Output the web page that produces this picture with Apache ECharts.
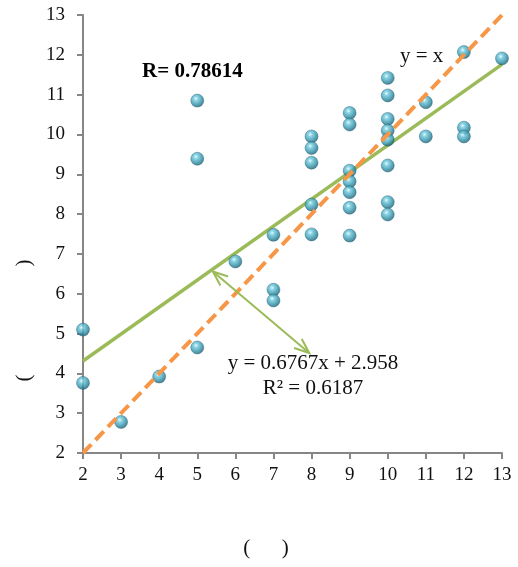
<!DOCTYPE html>
<html>
<head>
<meta charset="utf-8">
<script src="https://cdn.jsdelivr.net/npm/echarts@6/dist/echarts.min.js"></script>
<style>
html,body{margin:0;padding:0;background:#fff;}
#chart{width:518px;height:567px;}
</style>
</head>
<body>
<div id="chart"></div>
<script>
// Scatter data
const pointsX = [2,2,3,4,5,5,5,6,7,7,7, 8,8,8,8,8, 9,9,9,9,9,9,9, 10,10,10,10,10,10,10,10, 11,11, 12,12,12, 13];
const pointsY = [5.10,3.76,2.78,3.92,4.65,9.39,10.85,6.81,7.48,6.10,5.83,
                 9.95,9.66,9.29,8.24,7.49,
                 10.54,10.25,9.09,8.82,8.55,8.16,7.46,
                 11.42,10.98,10.39,10.10,9.87,9.22,8.30,7.99,
                 10.81,9.95,
                 12.07,10.17,9.95,
                 11.91];
// Linear trendline (y = 0.6767x + 2.958) endpoints
const trendX = [2, 13];
const trendY = [4.31, 11.76];
// Reference line y = x
const refX = [2, 13];
const refY = [2, 13];
// Double-headed annotation arrow (data coords)
const arrowStart = [5.41, 6.56];
const arrowEnd = [7.94, 4.51];
// Axis ticks
const axisMin = 2, axisMax = 13, axisStep = 1;
// Texts
const rText = 'R= 0.78614';
const eqText = 'y = 0.6767x + 2.958';
const r2Text = 'R² = 0.6187';
const refText = 'y = x';

const font = 'Liberation Serif';
const chart = echarts.init(document.getElementById('chart'));

const zip = (a, b) => a.map((v, i) => [v, b[i]]);

const ball = {
  type: 'radial', x: 0.4, y: 0.35, r: 0.65,
  colorStops: [
    {offset: 0, color: '#e6fbff'},
    {offset: 0.25, color: '#6cc8dc'},
    {offset: 0.7, color: '#2f8ea6'},
    {offset: 1, color: '#1d5f72'}
  ]
};

const axisCommon = {
  type: 'value', min: axisMin, max: axisMax, interval: axisStep,
  splitLine: {show: false},
  axisLine: {show: true, lineStyle: {color: '#868686', width: 2}},
  axisTick: {show: true, length: 6, lineStyle: {color: '#868686', width: 2}},
  axisLabel: {color: '#111', fontFamily: font, fontSize: 19}
};

chart.setOption({
  animation: false,
  backgroundColor: '#fff',
  grid: {left: 83, right: 16, top: 15, bottom: 114},
  xAxis: Object.assign({}, axisCommon, {axisLabel: Object.assign({}, axisCommon.axisLabel, {margin: 13})}),
  yAxis: Object.assign({}, axisCommon, {axisLabel: Object.assign({}, axisCommon.axisLabel, {margin: 18})}),
  series: [
    {
      type: 'line', data: zip(trendX, trendY), symbol: 'none', z: 1,
      lineStyle: {color: '#9BBB59', width: 3.5}
    },
    {
      type: 'scatter', data: zip(pointsX, pointsY), symbolSize: 13, z: 2,
      itemStyle: {color: ball, borderColor: '#1d5f72', borderWidth: 0.5}
    },
    {
      type: 'line', data: zip(refX, refY), symbol: 'none', z: 3,
      lineStyle: {color: '#F79646', width: 4, type: [12, 6]}
    },
    {
      type: 'custom', z: 4, silent: true,
      data: [[arrowStart[0], arrowStart[1], arrowEnd[0], arrowEnd[1]]],
      renderItem: function (params, api) {
        const p1 = api.coord([api.value(0), api.value(1)]);
        const p2 = api.coord([api.value(2), api.value(3)]);
        const ang = Math.atan2(p2[1] - p1[1], p2[0] - p1[0]);
        const L = 16, spread = 0.38;
        function head(p, a) {
          return [
            [p[0] + L * Math.cos(a + spread), p[1] + L * Math.sin(a + spread)],
            p,
            [p[0] + L * Math.cos(a - spread), p[1] + L * Math.sin(a - spread)]
          ];
        }
        const style = {stroke: '#9BBB59', lineWidth: 2, fill: null};
        return {
          type: 'group',
          children: [
            {type: 'line', shape: {x1: p1[0], y1: p1[1], x2: p2[0], y2: p2[1]}, style: style},
            {type: 'polyline', shape: {points: head(p1, ang)}, style: style},
            {type: 'polyline', shape: {points: head(p2, ang + Math.PI)}, style: style}
          ]
        };
      }
    }
  ],
  graphic: [
    {type: 'text', left: 142, top: 61, style: {text: rText, font: 'bold 21px "Liberation Serif"', fill: '#000'}},
    {type: 'text', left: 400, top: 46, style: {text: refText, font: '21px "Liberation Serif"', fill: '#111'}},
    {type: 'text', x: 313, y: 363, style: {text: eqText, font: '21px "Liberation Serif"', fill: '#111', align: 'center', verticalAlign: 'middle'}},
    {type: 'text', x: 313, y: 388, style: {text: r2Text, font: '21px "Liberation Serif"', fill: '#111', align: 'center', verticalAlign: 'middle'}},
    {type: 'text', x: 266, y: 548, style: {text: '(      )', font: '21px "Liberation Serif"', fill: '#111', align: 'center', verticalAlign: 'middle'}},
    {type: 'text', x: 24, y: 378, rotation: Math.PI / 2, style: {text: '(', font: '21px "Liberation Serif"', fill: '#111', align: 'center', verticalAlign: 'middle'}},
    {type: 'text', x: 24, y: 263, rotation: Math.PI / 2, style: {text: ')', font: '21px "Liberation Serif"', fill: '#111', align: 'center', verticalAlign: 'middle'}}
  ]
});
</script>
</body>
</html>
